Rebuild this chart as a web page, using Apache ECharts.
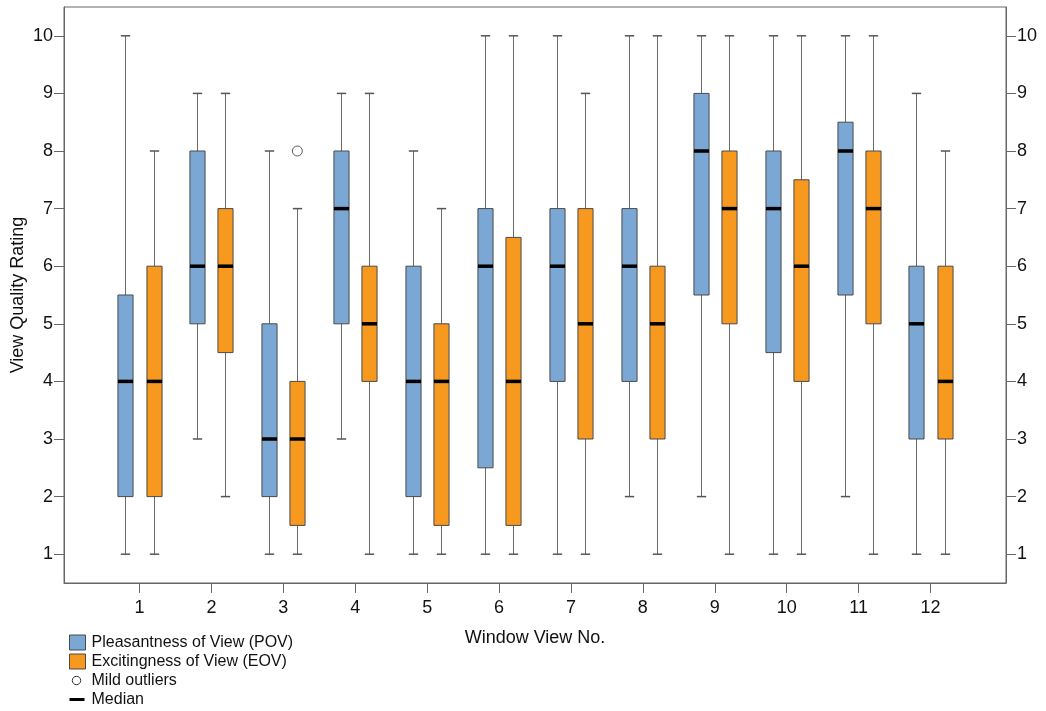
<!DOCTYPE html>
<html><head><meta charset="utf-8">
<script src="https://cdn.jsdelivr.net/npm/echarts@6/dist/echarts.min.js"></script>
<style>html,body{margin:0;padding:0;background:#fff}#c{width:1046px;height:711px}</style>
</head><body><div id="c"></div>
<script>
var categories = [1,2,3,4,5,6,7,8,9,10,11,12];
// [min, q1, median, q3, max]
var povStats = [
  [1,2,4,5.5,10],[3,5,6,8,9],[1,2,3,5,8],[3,5,7,8,9],[1,2,4,6,8],[1,2.5,6,7,10],
  [1,4,6,7,10],[2,4,6,7,10],[2,5.5,8,9,10],[1,4.5,7,8,10],[2,5.5,8,8.5,10],[1,3,5,6,9]
];
var eovStats = [
  [1,2,4,6,8],[2,4.5,6,7,9],[1,1.5,3,4,7],[1,4,5,6,9],[1,1.5,4,5,7],[1,1.5,4,6.5,10],
  [1,3,5,7,9],[1,3,5,6,10],[1,5,7,8,10],[1,4,6,7.5,10],[1,5,7,8,10],[1,3,4,6,8]
];
var eovOutliers = [[3,8]];
var yTicks = [1,2,3,4,5,6,7,8,9,10];

var OFF = 0.195, BOXW = 0.21, CAPW = 0.13;
function mkData(stats, off){
  return stats.map(function(s,i){ return [categories[i]+off].concat(s); });
}
function boxRender(color){
  return function(params, api){
    var x = api.value(0);
    var pMin = api.coord([x, api.value(1)]);
    var pQ1 = api.coord([x, api.value(2)]);
    var pQ3 = api.coord([x, api.value(4)]);
    var pMax = api.coord([x, api.value(5)]);
    var bw = api.size([BOXW, 0])[0];
    var cw = api.size([CAPW, 0])[0];
    var cx = Math.round(pMin[0]) + 0.5;
    var ws = {stroke:'#6b6b6b', lineWidth:1};
    return {type:'group', children:[
      {type:'line', shape:{x1:cx,y1:pMin[1],x2:cx,y2:pQ1[1]}, style:ws},
      {type:'line', shape:{x1:cx,y1:pQ3[1],x2:cx,y2:pMax[1]}, style:ws},
      {type:'line', shape:{x1:cx-cw/2,y1:pMin[1],x2:cx+cw/2,y2:pMin[1]}, style:{stroke:'#555',lineWidth:1.5}},
      {type:'line', shape:{x1:cx-cw/2,y1:pMax[1],x2:cx+cw/2,y2:pMax[1]}, style:{stroke:'#555',lineWidth:1.5}},
      {type:'rect', shape:{x:cx-bw/2,y:pQ3[1],width:bw,height:pQ1[1]-pQ3[1]}, style:{fill:color, stroke:'#4a4a4a', lineWidth:1}}
    ]};
  };
}
function medRender(params, api){
  var x = api.value(0);
  var p = api.coord([x, api.value(3)]);
  var bw = api.size([BOXW, 0])[0];
  var cx = Math.round(p[0]) + 0.5;
  return {type:'line', shape:{x1:cx-bw/2,y1:p[1],x2:cx+bw/2,y2:p[1]}, style:{stroke:'#000', lineWidth:3.5}};
}

var chart = echarts.init(document.getElementById('c'));
var FONT = 'Liberation Sans, Arial, sans-serif';
var yAxisBase = {
  type:'value', min:0.5, max:10.5,
  axisLine:{show:true, onZero:false, lineStyle:{color:'#666'}},
  axisTick:{show:true, length:10, customValues:yTicks, lineStyle:{color:'#666'}},
  axisLabel:{customValues:yTicks, color:'#111', fontSize:18, fontFamily:FONT, margin:11},
  splitLine:{show:false}
};
chart.setOption({
  animation:false,
  textStyle:{fontFamily:FONT},
  grid:{left:64, right:40, top:7, bottom:128, show:true, borderColor:'#666', borderWidth:1,
    containLabel:false, outerBoundsMode:'none'},
  xAxis:{
    type:'value', min:-0.05, max:13.05,
    name:'Window View No.', nameLocation:'middle', nameGap:46, nameMoveOverlap:false,
    nameTextStyle:{color:'#111', fontSize:18, fontFamily:FONT},
    axisLine:{show:true, onZero:false, lineStyle:{color:'#666'}},
    axisTick:{show:true, length:10, customValues:categories, lineStyle:{color:'#666'}},
    axisLabel:{customValues:categories, color:'#111', fontSize:18, fontFamily:FONT, margin:16},
    splitLine:{show:false}
  },
  yAxis:[
    Object.assign({}, yAxisBase, {position:'left', name:'View Quality Rating', nameLocation:'middle', nameGap:37,
      nameMoveOverlap:false, nameTextStyle:{color:'#111', fontSize:18, fontFamily:FONT}}),
    Object.assign({}, yAxisBase, {position:'right'})
  ],
  series:[
    {name:'Pleasantness of View (POV)', type:'custom', renderItem:boxRender('#7BA7D5'),
      data:mkData(povStats,-OFF), encode:{x:0, y:[1,2,3,4,5]}, z:2},
    {name:'Excitingness of View (EOV)', type:'custom', renderItem:boxRender('#F7981F'),
      data:mkData(eovStats,OFF), encode:{x:0, y:[1,2,3,4,5]}, z:2},
    {name:'Median', type:'custom', renderItem:medRender,
      data:mkData(povStats,-OFF).concat(mkData(eovStats,OFF)), encode:{x:0, y:[1,2,3,4,5]}, z:3},
    {name:'Mild outliers', type:'scatter', symbol:'circle', symbolSize:10,
      data:eovOutliers.map(function(d){return [d[0]+OFF, d[1]];}),
      itemStyle:{color:'#fff', borderColor:'#333', borderWidth:1}, z:3}
  ],
  graphic:[
    {type:'group', left:67, top:634.5, children:[
      {type:'rect', shape:{x:0,y:0,width:16,height:15}, style:{fill:'#7BA7D5', stroke:'#4a4a4a', lineWidth:1}},
      {type:'text', x:22, y:7.5, style:{text:'Pleasantness of View (POV)', fill:'#111', font:'16px '+FONT, textVerticalAlign:'middle'}},
      {type:'rect', shape:{x:0,y:19,width:16,height:15}, style:{fill:'#F7981F', stroke:'#4a4a4a', lineWidth:1}},
      {type:'text', x:22, y:26.5, style:{text:'Excitingness of View (EOV)', fill:'#111', font:'16px '+FONT, textVerticalAlign:'middle'}},
      {type:'circle', shape:{cx:7,cy:45.5,r:4.2}, style:{fill:'#fff', stroke:'#333', lineWidth:1}},
      {type:'text', x:22, y:45.5, style:{text:'Mild outliers', fill:'#111', font:'16px '+FONT, textVerticalAlign:'middle'}},
      {type:'line', shape:{x1:0,y1:64.5,x2:15,y2:64.5}, style:{stroke:'#000', lineWidth:3}},
      {type:'text', x:22, y:64.5, style:{text:'Median', fill:'#111', font:'16px '+FONT, textVerticalAlign:'middle'}}
    ]}
  ]
});
</script>
</body></html>
